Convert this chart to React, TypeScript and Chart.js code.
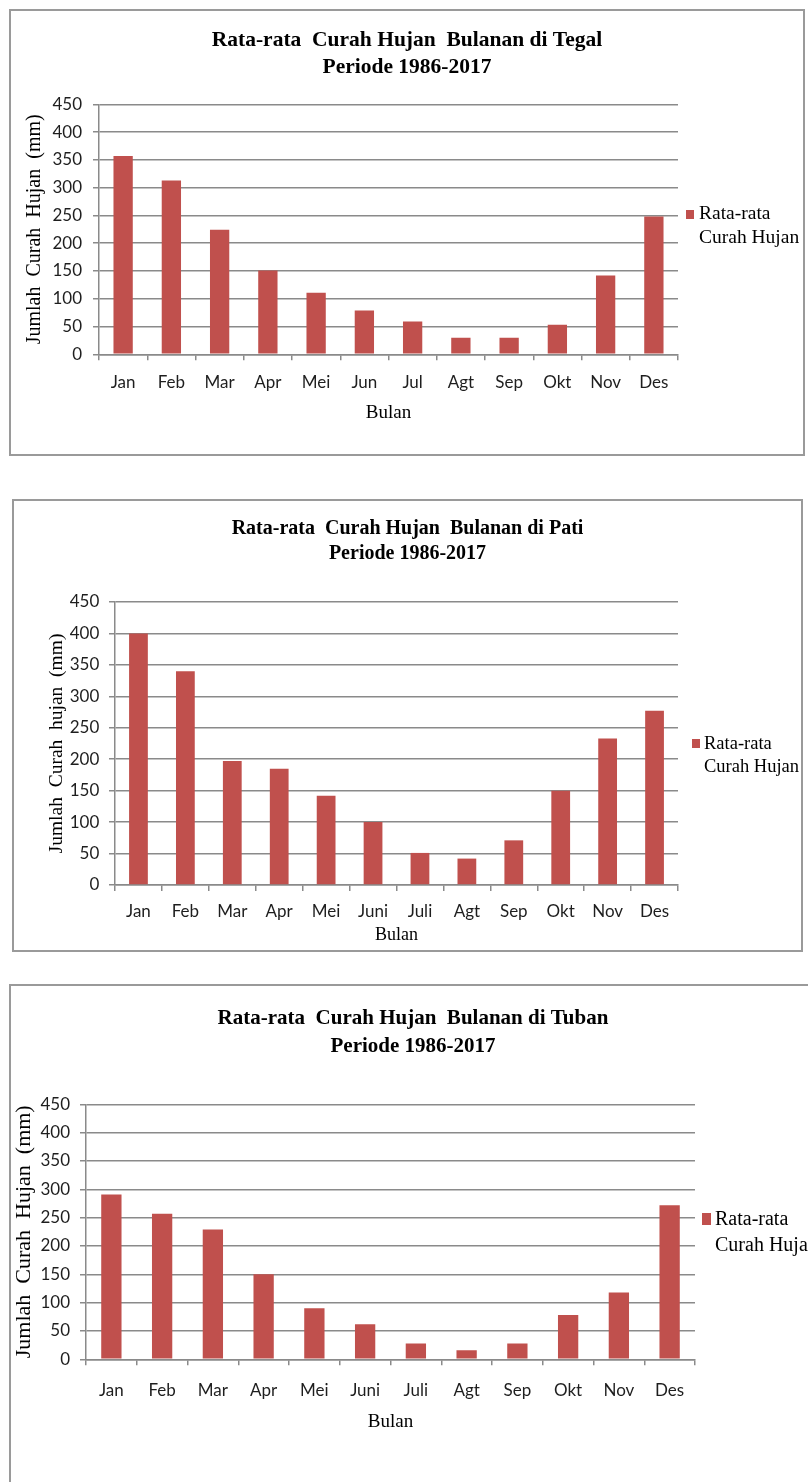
import React, { useEffect, useRef } from 'react';
import { Chart, registerables } from 'chart.js';

Chart.register(...registerables);

// ---------- data ----------
const MONTHS_TEGAL = ['Jan', 'Feb', 'Mar', 'Apr', 'Mei', 'Jun', 'Jul', 'Agt', 'Sep', 'Okt', 'Nov', 'Des'];
const MONTHS_PATI = ['Jan', 'Feb', 'Mar', 'Apr', 'Mei', 'Juni', 'Juli', 'Agt', 'Sep', 'Okt', 'Nov', 'Des'];
const MONTHS_TUBAN = ['Jan', 'Feb', 'Mar', 'Apr', 'Mei', 'Juni', 'Juli', 'Agt', 'Sep', 'Okt', 'Nov', 'Des'];

const RAIN_TEGAL = [357, 313, 224, 151, 111, 79, 59, 30, 30, 53, 142, 248];
const RAIN_PATI = [400, 340, 197, 185, 142, 100, 51, 42, 71, 150, 233, 277];
const RAIN_TUBAN = [291, 257, 229, 150, 90, 62, 28, 16, 28, 78, 118, 272];

const Y_MIN = 0;
const Y_MAX = 450;
const Y_STEP = 50;

const TITLE_TEGAL = ['Rata-rata  Curah Hujan  Bulanan di Tegal', 'Periode 1986-2017'];
const TITLE_PATI = ['Rata-rata  Curah Hujan  Bulanan di Pati', 'Periode 1986-2017'];
const TITLE_TUBAN = ['Rata-rata  Curah Hujan  Bulanan di Tuban', 'Periode 1986-2017'];

const Y_TITLE_TEGAL = 'Jumlah  Curah  Hujan  (mm)';
const Y_TITLE_PATI = 'Jumlah  Curah  hujan  (mm)';
const Y_TITLE_TUBAN = 'Jumlah  Curah  Hujan  (mm)';
const X_TITLE = 'Bulan';

const SERIES_LABEL = 'Rata-rata Curah Hujan';
const LEGEND_LINES = ['Rata-rata', 'Curah Hujan'];

// ---------- style ----------
const BAR_COLOR = '#C0504D';
const GRID_COLOR = '#8a8a8a';
const TICK_COLOR = '#1e1e1e';
const SERIF = '"Liberation Serif", "Times New Roman", serif';
const SANS = 'Lato, "Noto Sans", sans-serif';

type Geo = {
  x: number; y: number; W: number; H: number;
  L: number; R: number; T: number; B: number;
  yTickPad: number; xTickPad: number;
  titleSize: number; titleLH: number; titlePadTop: number;
  yTitleSize: number; yTitleCenter: number;
  xTitleSize: number; xTitleCenter: number;
  legBox: [number, number, number, number];
  legTextX: number; legLines: [number, number]; legSize: number;
};

type Spec = {
  labels: string[];
  values: number[];
  title: string[];
  yTitle: string;
  geo: Geo;
};

const SPECS: Spec[] = [
  {
    labels: MONTHS_TEGAL, values: RAIN_TEGAL, title: TITLE_TEGAL, yTitle: Y_TITLE_TEGAL,
    geo: {
      x: 9, y: 9, W: 796, H: 447,
      L: 90, R: 669, T: 95.3, B: 345.3,
      yTickPad: 11, xTickPad: 12.5,
      titleSize: 21.5, titleLH: 27, titlePadTop: 17.5,
      yTitleSize: 20, yTitleCenter: 26,
      xTitleSize: 19, xTitleCenter: 404,
      legBox: [677, 201, 8, 9], legTextX: 690, legLines: [205, 229], legSize: 19.5,
    },
  },
  {
    labels: MONTHS_PATI, values: RAIN_PATI, title: TITLE_PATI, yTitle: Y_TITLE_PATI,
    geo: {
      x: 12, y: 499, W: 791, H: 453,
      L: 103, R: 666, T: 103, B: 386,
      yTickPad: 9.7, xTickPad: 10.8,
      titleSize: 20, titleLH: 25.5, titlePadTop: 16.75,
      yTitleSize: 19.5, yTitleCenter: 45,
      xTitleSize: 18, xTitleCenter: 436,
      legBox: [680, 240, 8, 9], legTextX: 692, legLines: [245, 268], legSize: 18.5,
    },
  },
  {
    labels: MONTHS_TUBAN, values: RAIN_TUBAN, title: TITLE_TUBAN, yTitle: Y_TITLE_TUBAN,
    geo: {
      x: 9, y: 984, W: 808, H: 600,
      L: 77, R: 686, T: 120.3, B: 375.3,
      yTickPad: 10, xTickPad: 15.5,
      titleSize: 21, titleLH: 28.5, titlePadTop: 20.25,
      yTitleSize: 22, yTitleCenter: 15,
      xTitleSize: 19, xTitleCenter: 438,
      legBox: [693, 229, 9, 12], legTextX: 706, legLines: [236, 262], legSize: 20,
    },
  },
];

function makeLegendPlugin(g: Geo) {
  return {
    id: 'sideLegend',
    afterDraw(chart: any) {
      const ctx = chart.ctx;
      const ds = chart.data.datasets[0];
      ctx.save();
      ctx.fillStyle = ds.backgroundColor;
      ctx.fillRect(g.legBox[0], g.legBox[1], g.legBox[2], g.legBox[3]);
      ctx.fillStyle = '#000';
      ctx.font = `${g.legSize}px ${SERIF}`;
      ctx.textAlign = 'left';
      ctx.textBaseline = 'middle';
      LEGEND_LINES.forEach((line, i) => ctx.fillText(line, g.legTextX, g.legLines[i]));
      ctx.restore();
    },
  };
}

function RainChart({ spec }: { spec: Spec }) {
  const ref = useRef<HTMLCanvasElement>(null);
  const g = spec.geo;

  useEffect(() => {
    if (!ref.current) return;
    const tickLen = 6;
    const xTitleLH = g.xTitleSize * 1.2;
    const yTitleLH = g.yTitleSize * 1.2;
    const chart = new Chart(ref.current, {
      type: 'bar',
      data: {
        labels: spec.labels,
        datasets: [
          {
            label: SERIES_LABEL,
            data: spec.values,
            backgroundColor: BAR_COLOR,
            borderWidth: 0,
            categoryPercentage: 1,
            barPercentage: 0.4,
            yAxisID: 'y',
          },
        ],
      },
      options: {
        responsive: false,
        animation: false,
        devicePixelRatio: 1,
        layout: { padding: 0 },
        plugins: {
          legend: { display: false },
          tooltip: { enabled: false },
          title: {
            display: true,
            text: spec.title,
            color: '#000',
            font: { family: SERIF, size: g.titleSize, weight: 'bold', lineHeight: `${g.titleLH}px` },
            padding: { top: g.titlePadTop, bottom: g.T - g.titlePadTop - 2 * g.titleLH },
          },
        },
        scales: {
          x: {
            type: 'category',
            grid: {
              display: true,
              drawOnChartArea: false,
              drawTicks: true,
              tickLength: tickLen,
              color: GRID_COLOR,
              lineWidth: 1.5,
              offset: true,
            },
            border: { display: true, color: GRID_COLOR, width: 1.5 },
            ticks: {
              color: TICK_COLOR,
              font: { family: SANS, size: 17, lineHeight: 1.2 },
              padding: g.xTickPad,
              maxRotation: 0,
              minRotation: 0,
              autoSkip: false,
            },
            title: {
              display: true,
              text: X_TITLE,
              color: '#000',
              font: { family: SERIF, size: g.xTitleSize, lineHeight: 1.2 },
              padding: { top: 0, bottom: g.H - g.xTitleCenter - xTitleLH / 2 },
            },
            afterFit(scale: any) {
              scale.height = g.H - g.B;
            },
          },
          y: {
            type: 'linear',
            position: 'left',
            min: Y_MIN,
            max: Y_MAX,
            grid: {
              color: GRID_COLOR,
              lineWidth: 1.5,
              drawTicks: true,
              tickLength: tickLen,
            },
            border: { display: true, color: GRID_COLOR, width: 1.5 },
            ticks: {
              stepSize: Y_STEP,
              color: TICK_COLOR,
              font: { family: SANS, size: 17 },
              padding: g.yTickPad,
            },
            title: {
              display: true,
              text: spec.yTitle,
              color: '#000',
              font: { family: SERIF, size: g.yTitleSize, lineHeight: 1.2 },
              padding: { top: g.yTitleCenter - yTitleLH / 2, bottom: 0 },
            },
            afterFit(scale: any) {
              scale.width = g.L;
            },
          },
          yRight: {
            type: 'linear',
            position: 'right',
            display: true,
            grid: { display: false, drawTicks: false },
            border: { display: false },
            ticks: { display: false },
            afterFit(scale: any) {
              scale.width = g.W - g.R;
            },
          },
        },
      } as any,
      plugins: [makeLegendPlugin(g)],
    });
    return () => chart.destroy();
  }, []);

  return (
    <>
      <canvas
        ref={ref}
        width={g.W}
        height={g.H}
        style={{ position: 'absolute', left: g.x, top: g.y, width: g.W, height: g.H, display: 'block' }}
      />
      <div
        style={{
          position: 'absolute',
          left: g.x,
          top: g.y,
          width: g.W,
          height: g.H,
          boxSizing: 'border-box',
          border: '2px solid #9a9a9a',
          pointerEvents: 'none',
        }}
      />
    </>
  );
}

export default function App() {
  return (
    <div
      style={{
        position: 'absolute',
        left: 0,
        top: 0,
        width: 808,
        height: 1482,
        overflow: 'hidden',
        background: '#fff',
      }}
    >
      {SPECS.map((s, i) => (
        <RainChart key={i} spec={s} />
      ))}
    </div>
  );
}
